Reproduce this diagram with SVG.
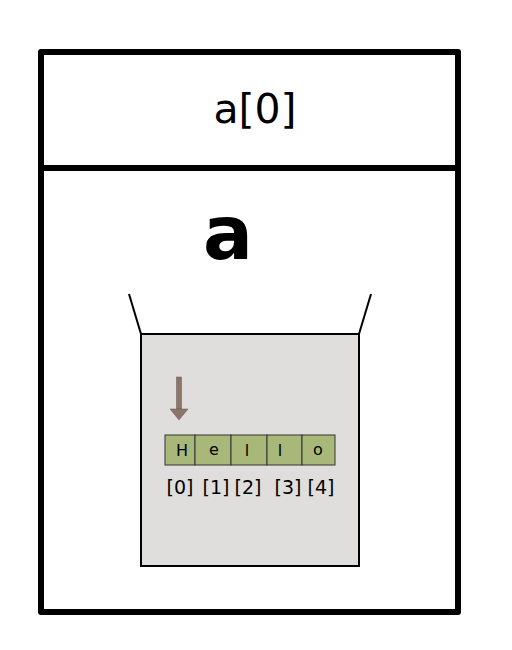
<svg xmlns="http://www.w3.org/2000/svg" width="512" height="650" viewBox="0 0 512 650">
<style>
text{font-family:"DejaVu Sans",sans-serif;fill:#000}
.cell{fill:#a8b878;stroke:#333;stroke-width:1}
.ch{font-size:16px;text-anchor:middle}
.idx{font-size:19px;text-anchor:middle}
</style>
<rect width="512" height="650" fill="#fff"/>
<g id="frame">
<rect x="41" y="52" width="417" height="560" fill="#fff" stroke="#000" stroke-width="6" stroke-linejoin="round"/>
<line x1="41" y1="168" x2="458" y2="168" stroke="#000" stroke-width="6"/>
<text x="255" y="123" font-size="41" text-anchor="middle">a[0]</text>
</g>
<g id="var-a">
<text x="228" y="259" font-size="74" font-weight="bold" text-anchor="middle">a</text>
<rect x="141" y="334" width="218" height="232" fill="#e0dddd" stroke="#000" stroke-width="2"/>
<line x1="129" y1="294" x2="141" y2="334" stroke="#000" stroke-width="2"/>
<line x1="371" y1="294" x2="359" y2="334" stroke="#000" stroke-width="2"/>
</g>
<g id="pointer">
<rect x="176.5" y="377" width="5" height="32" fill="#8b7468" stroke="#6e5a50" stroke-width="0.5"/>
<polygon points="170,409 188,409 179,420" fill="#8b7468" stroke="#6e5a50" stroke-width="0.5"/>
</g>
<g id="string">
<rect class="cell" x="165" y="435" width="30" height="30"/>
<rect class="cell" x="195" y="435" width="36" height="30"/>
<rect class="cell" x="231" y="435" width="36" height="30"/>
<rect class="cell" x="267" y="435" width="35" height="30"/>
<rect class="cell" x="302" y="435" width="33" height="30"/>
<text class="ch" x="182" y="456">H</text>
<text class="ch" x="214" y="455">e</text>
<text class="ch" x="247" y="456">l</text>
<text class="ch" x="280" y="456">l</text>
<text class="ch" x="318" y="455">o</text>
<text class="idx" x="180" y="494">[0]</text>
<text class="idx" x="216" y="494">[1]</text>
<text class="idx" x="248" y="494">[2]</text>
<text class="idx" x="288" y="494">[3]</text>
<text class="idx" x="321" y="494">[4]</text>
</g>
</svg>
